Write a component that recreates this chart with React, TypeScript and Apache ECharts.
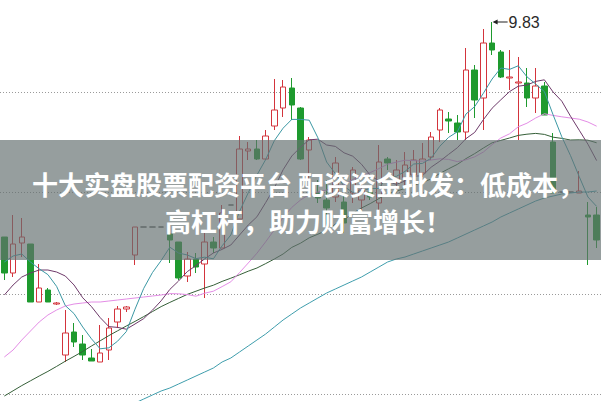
import React, { useEffect, useRef } from "react";
import * as echarts from "echarts";

// [open, close, lowest, highest]
const candles: number[][] = [
  [8.755, 8.575, 8.54, 8.755],
  [8.575, 8.72, 8.555, 8.865],
  [8.725, 8.755, 8.655, 8.85],
  [8.72, 8.43, 8.43, 8.72],
  [8.43, 8.5, 8.43, 8.62],
  [8.49, 8.43, 8.43, 8.5],
  [8.42, 8.425, 8.415, 8.43],
  [8.165, 8.275, 8.13, 8.39],
  [8.28, 8.23, 8.205, 8.325],
  [8.22, 8.165, 8.14, 8.265],
  [8.15, 8.135, 8.135, 8.195],
  [8.13, 8.175, 8.13, 8.315],
  [8.19, 8.3, 8.14, 8.35],
  [8.33, 8.395, 8.3, 8.41],
  [8.395, 8.405, 8.38, 8.41],
  [8.665, 8.805, 8.615, 8.805],
  [8.805, 8.805, 8.805, 8.805],
  [8.805, 8.805, 8.805, 8.805],
  [8.805, 8.805, 8.805, 8.805],
  [8.77, 8.74, 8.625, 8.78],
  [8.73, 8.55, 8.54, 8.73],
  [8.56, 8.645, 8.53, 8.68],
  [8.645, 8.605, 8.575, 8.675],
  [8.62, 8.73, 8.45, 8.775],
  [8.73, 8.7, 8.675, 8.755],
  [8.7, 8.875, 8.7, 8.915],
  [8.915, 8.915, 8.915, 8.915],
  [8.845, 9.195, 8.845, 9.26],
  [9.185, 9.195, 9.14, 9.23],
  [9.195, 9.145, 9.14, 9.24],
  [9.145, 9.26, 9.14, 9.29],
  [9.31, 9.39, 9.29, 9.545],
  [9.4, 9.505, 9.355, 9.54],
  [9.5, 9.415, 9.34, 9.55],
  [9.4, 9.145, 9.14, 9.405],
  [9.19, 9.24, 8.975, 9.255],
  [8.975, 8.95, 8.925, 9.04],
  [8.94, 8.9, 8.81, 9.04],
  [8.955, 9.125, 8.93, 9.155],
  [8.93, 8.825, 8.775, 8.975],
  [8.975, 9.09, 8.925, 9.105],
  [8.94, 8.99, 8.89, 9.025],
  [8.98, 8.955, 8.94, 9.015],
  [8.925, 9.13, 8.89, 9.215],
  [9.145, 9.125, 9.09, 9.155],
  [9.04, 9.09, 8.99, 9.14],
  [9.05, 9.115, 9.015, 9.18],
  [9.065, 9.14, 9.025, 9.19],
  [9.075, 9.145, 9.055, 9.225],
  [9.155, 9.255, 9.14, 9.28],
  [9.29, 9.39, 9.23, 9.4],
  [9.345, 9.335, 9.275, 9.38],
  [9.325, 9.28, 9.24, 9.365],
  [9.28, 9.59, 9.24, 9.7],
  [9.59, 9.44, 9.35, 9.615],
  [9.45, 9.725, 9.29, 9.795],
  [9.725, 9.69, 9.665, 9.83],
  [9.68, 9.555, 9.55, 9.69],
  [9.55, 9.555, 9.49, 9.69],
  [9.525, 9.53, 9.24, 9.655],
  [9.525, 9.45, 9.405, 9.6],
  [9.45, 9.51, 9.375, 9.6],
  [9.51, 9.365, 9.365, 9.53],
  [9.23, 8.975, 8.975, 9.275],
  [8.98, 8.98, 8.98, 8.98],
  [8.98, 8.98, 8.98, 8.98],
  [8.975, 8.985, 8.975, 9.085],
  [8.865, 8.855, 8.615, 8.93],
  [8.865, 8.74, 8.7, 8.905],
];

const ma5: number[] = [
  8.63, 8.66, 8.67, 8.63, 8.596, 8.567, 8.508, 8.412, 8.372, 8.305,
  8.246, 8.196, 8.201, 8.234, 8.282, 8.394, 8.498, 8.577, 8.637, 8.704,
  8.675, 8.665, 8.647, 8.654, 8.646, 8.711, 8.765, 8.883, 8.976, 9.065,
  9.142, 9.237, 9.299, 9.343, 9.343, 9.339, 9.251, 9.13, 9.072, 9.008,
  8.978, 8.986, 8.997, 8.998, 9.058, 9.058, 9.083, 9.12, 9.123, 9.149,
  9.209, 9.253, 9.281, 9.37, 9.407, 9.474, 9.545, 9.6, 9.593, 9.611,
  9.556, 9.52, 9.482, 9.366, 9.256, 9.162, 9.057, 8.955, 8.908,
];

const ma10: number[] = [
  8.465, 8.515, 8.555, 8.575, 8.59, 8.59, 8.58, 8.56, 8.515, 8.451,
  8.407, 8.352, 8.307, 8.303, 8.294, 8.32, 8.347, 8.389, 8.436, 8.493,
  8.535, 8.582, 8.612, 8.646, 8.675, 8.693, 8.715, 8.765, 8.815, 8.856,
  8.927, 9.001, 9.091, 9.16, 9.204, 9.241, 9.244, 9.215, 9.208, 9.176,
  9.159, 9.119, 9.064, 9.035, 9.033, 9.018, 9.035, 9.059, 9.061, 9.104,
  9.134, 9.168, 9.201, 9.247, 9.278, 9.342, 9.399, 9.441, 9.482, 9.509,
  9.515, 9.533, 9.541, 9.48, 9.434, 9.359, 9.289, 9.219, 9.137,
];

const ma20: number[] = [
  8.155, 8.19, 8.24, 8.285, 8.33, 8.365, 8.39, 8.41, 8.42, 8.425,
  8.43, 8.43, 8.435, 8.44, 8.445, 8.45, 8.455, 8.46, 8.465, 8.472,
  8.471, 8.467, 8.459, 8.474, 8.484, 8.507, 8.531, 8.577, 8.625, 8.674,
  8.731, 8.791, 8.852, 8.903, 8.94, 8.967, 8.98, 8.99, 9.011, 9.016,
  9.043, 9.06, 9.077, 9.097, 9.119, 9.129, 9.139, 9.137, 9.134, 9.14,
  9.146, 9.143, 9.132, 9.141, 9.156, 9.18, 9.217, 9.25, 9.271, 9.306,
  9.324, 9.35, 9.371, 9.363, 9.356, 9.35, 9.344, 9.33, 9.309,
];

const ma30: number[] = [
  7.96, 7.986, 8.012, 8.036, 8.06, 8.083, 8.108, 8.134, 8.158, 8.183,
  8.21, 8.236, 8.262, 8.286, 8.31, 8.333, 8.357, 8.382, 8.407, 8.428,
  8.448, 8.468, 8.484, 8.5, 8.514, 8.533, 8.549, 8.566, 8.584, 8.6,
  8.622, 8.645, 8.67, 8.703, 8.724, 8.751, 8.769, 8.789, 8.819, 8.841,
  8.873, 8.9, 8.922, 8.947, 8.971, 8.984, 8.998, 9.013, 9.028, 9.045,
  9.073, 9.096, 9.118, 9.147, 9.172, 9.2, 9.226, 9.238, 9.25, 9.263,
  9.269, 9.273, 9.268, 9.254, 9.248, 9.24, 9.241, 9.239, 9.226,
];

const ma60: (number | null)[] = [
  null, null, null, null, null, null, null, null, null, null,
  null, null, null, null, null, 7.925, 7.945, 7.965, 7.985, 8.0,
  8.02, 8.04, 8.06, 8.08, 8.1, 8.13, 8.15, 8.18, 8.21, 8.24,
  8.27, 8.305, 8.34, 8.37, 8.4, 8.425, 8.45, 8.475, 8.495, 8.515,
  8.535, 8.555, 8.58, 8.605, 8.63, 8.645, 8.655, 8.67, 8.685, 8.7,
  8.715, 8.73, 8.75, 8.77, 8.79, 8.81, 8.83, 8.855, 8.875, 8.895,
  8.915, 8.935, 8.95, 8.96, 8.97, 8.975, 8.98, 8.98, 8.985,
];

const gridPrices: number[] = [9.48, 8.98, 8.475, 7.975];
const categories: string[] = candles.map((_, i) => `D${i + 1}`);
const titleLine1 = "十大实盘股票配资平台 配资资金批发：低成本，";
const titleLine2 = "高杠杆，助力财富增长！";

const maLine = (name: string, data: (number | null)[], color: string, z: number) => ({
  type: "line",
  name,
  data,
  symbol: "none",
  smooth: false,
  connectNulls: false,
  lineStyle: { width: 1, color },
  z,
  silent: true,
});

export default function App() {
  const ref = useRef<HTMLDivElement>(null);
  useEffect(() => {
    document.body.style.margin = "0";
    const chart = echarts.init(ref.current!, null, { renderer: "svg" });
    chart.setOption({
      animation: false,
      backgroundColor: "#ffffff",
      grid: { left: -0.4, top: 0, width: 604, height: 401, containLabel: false },
      xAxis: { type: "category", data: categories, show: false, boundaryGap: true },
      yAxis: { type: "value", min: 7.935, max: 9.94, show: false, splitLine: { show: false } },
      series: [
        {
          ...maLine("MA60", ma60, "#3f9ead", 3),
          markLine: {
            silent: true,
            z: 1,
            symbol: ["none", "none"],
            label: { show: false },
            lineStyle: { type: [1, 2], color: "#9a9a9a", width: 1 },
            data: gridPrices.map((p) => ({ yAxis: p })),
          },
        },
        {
          type: "candlestick",
          name: "K",
          data: candles,
          barWidth: 6,
          z: 2,
          itemStyle: {
            color: "#ffffff",
            color0: "#1e9a2e",
            borderColor: "#d3343c",
            borderColor0: "#1e9a2e",
            borderColorDoji: "#5a5a5a",
            borderWidth: 1,
          },
          markPoint: {
            symbol: "path://M0,3 L5,0 L5,2.4 L15,2.4 L15,3.6 L5,3.6 L5,6 Z",
            symbolSize: [15, 5],
            symbolOffset: [8, 0],
            itemStyle: { color: "#222" },
            label: {
              show: true,
              position: "right",
              distance: 1,
              color: "#2a2a2a",
              fontSize: 16,
              fontFamily: "Liberation Sans, Arial, sans-serif",
              formatter: (p: any) => String(p.value),
            },
            data: [{ type: "max", valueDim: "highest", name: "max" }],
          },
        },
        maLine("MA30", ma30, "#355f38", 3),
        maLine("MA20", ma20, "#e48de6", 3),
        maLine("MA10", ma10, "#6e3a6a", 3),
        maLine("MA5", ma5, "#3b98a4", 3),
      ],
      graphic: [
        {
          type: "rect",
          shape: { x: 0, y: 140, width: 601, height: 120 },
          style: { fill: "rgba(100,112,112,0.68)" },
          z: 100,
          silent: true,
        },
        {
          type: "text",
          x: 308,
          y: 183,
          z: 101,
          style: {
            text: titleLine1,
            fill: "#ffffff",
            font: 'bold 26px "Noto Sans CJK SC", sans-serif',
            textAlign: "center",
            textVerticalAlign: "middle",
          },
        },
        {
          type: "text",
          x: 308,
          y: 220,
          z: 101,
          style: {
            text: titleLine2,
            fill: "#ffffff",
            font: 'bold 26px "Noto Sans CJK SC", sans-serif',
            textAlign: "center",
            textVerticalAlign: "middle",
          },
        },
      ],
    });
    return () => chart.dispose();
  }, []);
  return <div ref={ref} style={{ position: "fixed", left: 0, top: 0, width: 601, height: 401 }} />;
}
